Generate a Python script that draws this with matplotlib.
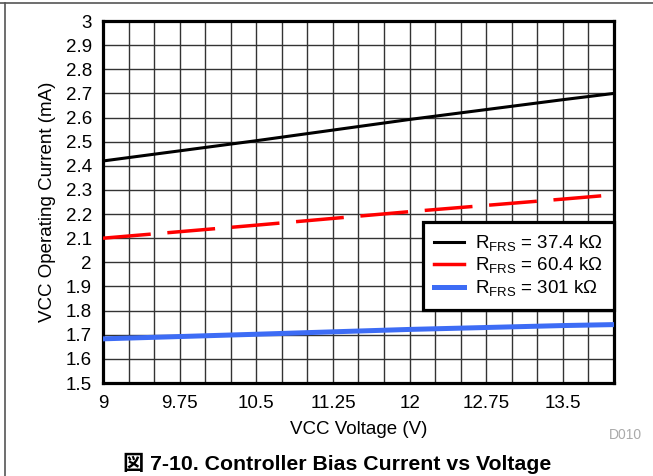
import matplotlib
matplotlib.use('Agg')
import matplotlib.pyplot as plt
from matplotlib.lines import Line2D
import numpy as np

plt.rcParams['font.family'] = ['Liberation Sans', 'Noto Sans CJK JP', 'DejaVu Sans']
plt.rcParams['mathtext.fontset'] = 'custom'
plt.rcParams['mathtext.rm'] = 'Liberation Sans'

# data
vcc = [9, 10.5, 12, 13.5, 14]
i_374 = [2.42, 2.504, 2.592, 2.674, 2.70]
i_604 = [2.10, 2.154, 2.210, 2.262, 2.28]
i_301 = [1.683, 1.702, 1.722, 1.738, 1.742]
labels = ['R$_\\mathregular{FRS}$ = 37.4 k\u03a9',
          'R$_\\mathregular{FRS}$ = 60.4 k\u03a9',
          'R$_\\mathregular{FRS}$ = 301 k\u03a9']
xticks = [9, 9.75, 10.5, 11.25, 12, 12.75, 13.5]
xtick_labels = ['9', '9.75', '10.5', '11.25', '12', '12.75', '13.5']
yticks = np.round(np.arange(1.5, 3.01, 0.1), 1)

BLACK, RED, BLUE = 'black', '#ff0000', '#3d6cf5'
FS = 13.5

fig = plt.figure(figsize=(6.53, 4.76), dpi=100)
ax = fig.add_axes([103 / 653, 1 - 383 / 476, 511 / 653, 362 / 476])

ax.plot(vcc, i_374, color=BLACK, lw=2.2, zorder=3)
ax.plot(vcc, i_604, color=RED, lw=2.5, dashes=(13.8, 4.8), zorder=3)
ax.plot(vcc, i_301, color=BLUE, lw=3.6, zorder=3)

ax.set_xlim(9, 14)
ax.set_ylim(1.5, 3)
ax.set_xticks(xticks)
ax.set_xticklabels(xtick_labels)
ax.set_xticks(np.arange(9, 14.01, 0.25), minor=True)
ax.set_yticks(yticks)
ax.set_yticklabels(['%g' % v for v in yticks])
ax.tick_params(which='both', length=0, labelsize=FS)
ax.tick_params(axis='x', pad=9)
ax.tick_params(axis='y', pad=8)
ax.grid(which='both', color='#333333', lw=1.0)
for s in ax.spines.values():
    s.set_linewidth(2.3)
ax.set_xlabel('VCC Voltage (V)', fontsize=FS, labelpad=6)
ax.set_ylabel('VCC Operating Current (mA)', fontsize=FS, labelpad=7)

handles = [Line2D([], [], color=BLACK, lw=2.2),
           Line2D([], [], color=RED, lw=2.5),
           Line2D([], [], color=BLUE, lw=3.6)]
leg = ax.legend(handles, labels, loc='upper right', bbox_to_anchor=(1, (383 - 222) / 362),
                fontsize=FS, frameon=True, fancybox=False, framealpha=1,
                edgecolor='black', borderpad=0.6, labelspacing=0.12,
                handlelength=1.6, handletextpad=0.55, borderaxespad=0)
leg.get_frame().set_linewidth(2.3)

fig.text(625 / 653, 1 - 435 / 476, 'D010', fontsize=10, color='#aaaaaa', ha='center', va='center')
fig.text(337 / 653, 1 - 463 / 476, '図 7-10. Controller Bias Current vs Voltage',
         fontsize=15.3, fontweight='bold', ha='center', va='center')

fig.add_artist(Line2D([0, 1], [1 - 3 / 476, 1 - 3 / 476], color='#555555', lw=1.2))
fig.add_artist(Line2D([5 / 653, 5 / 653], [0, 1 - 3 / 476], color='#555555', lw=1.2))

fig.savefig('out.png', dpi=100)
